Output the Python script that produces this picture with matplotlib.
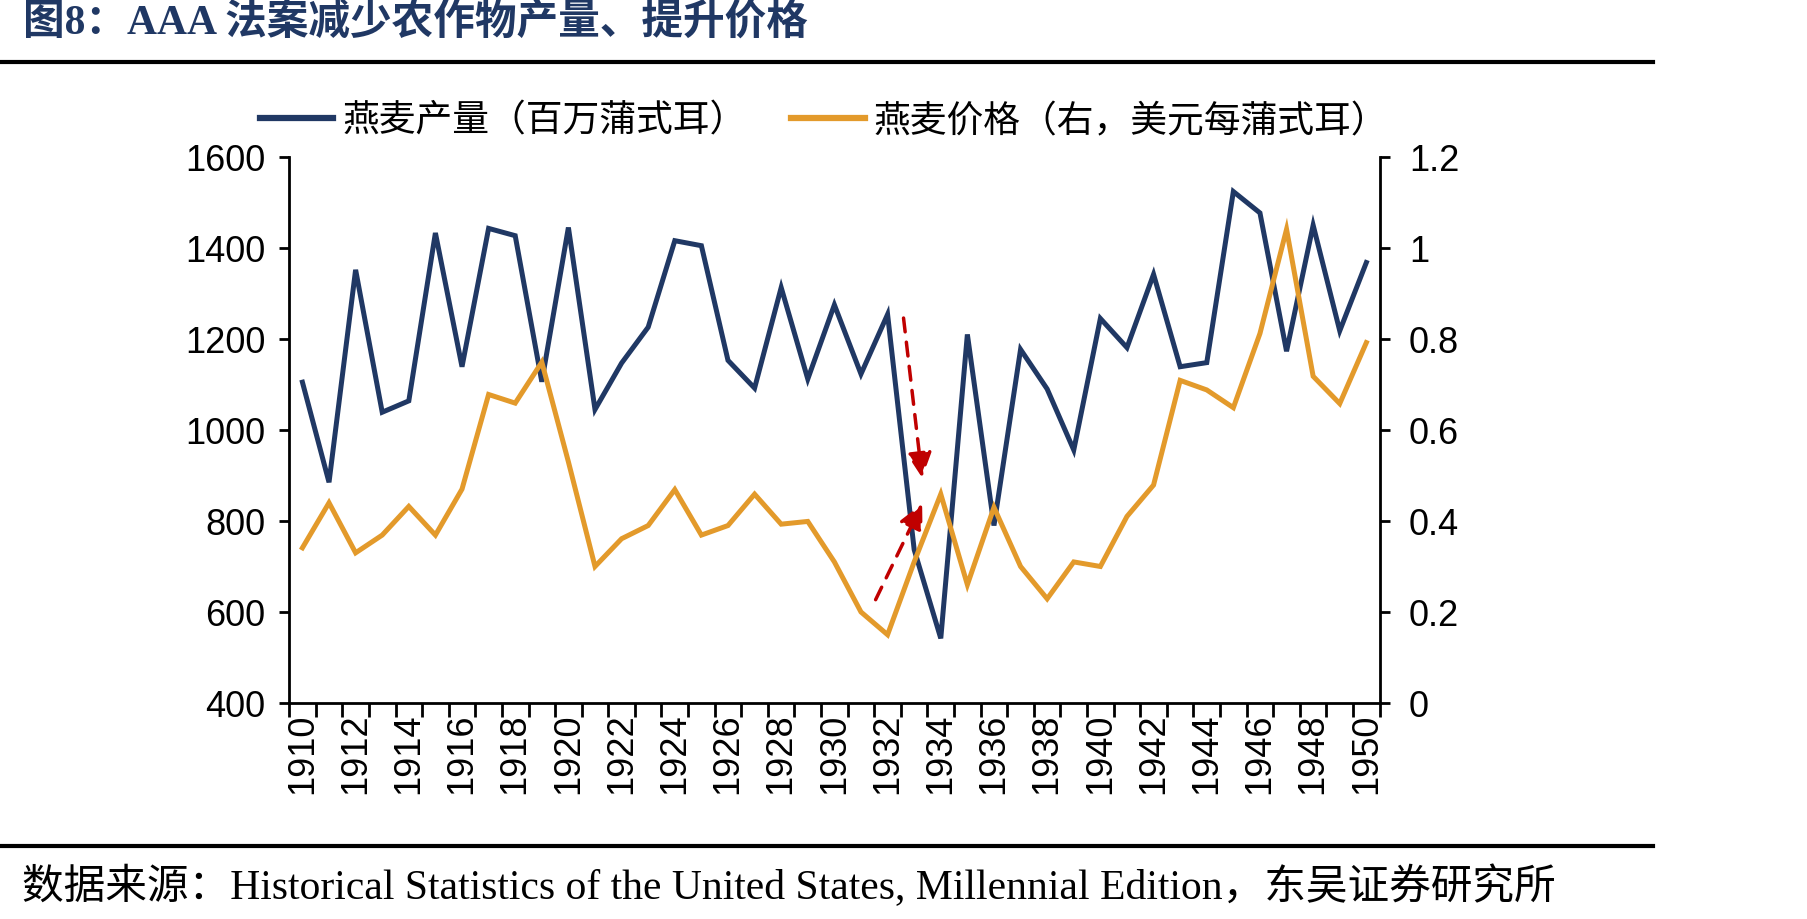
import matplotlib
matplotlib.use("Agg")
import matplotlib.pyplot as plt
from matplotlib.lines import Line2D
import numpy as np

years = list(range(1910, 1951))
oats_output = [1105, 885, 1352, 1039, 1064, 1433, 1139, 1443, 1427, 1106,
               1445, 1045, 1147, 1226, 1416, 1405, 1153, 1092, 1313, 1112,
               1275, 1123, 1254, 737, 542, 1210, 790, 1177, 1090, 956,
               1245, 1181, 1342, 1139, 1148, 1524, 1477, 1173, 1450, 1218, 1368]
oats_price = [0.341, 0.440, 0.330, 0.369, 0.432, 0.369, 0.470, 0.678, 0.659, 0.749,
              0.53, 0.300, 0.361, 0.390, 0.469, 0.369, 0.390, 0.459, 0.393, 0.399,
              0.310, 0.200, 0.150, 0.31, 0.459, 0.260, 0.430, 0.300, 0.229, 0.310,
              0.300, 0.410, 0.479, 0.709, 0.688, 0.649, 0.812, 1.041, 0.718, 0.658, 0.792]
year_labels = [str(y) for y in years[::2]]
left_ticks = [400, 600, 800, 1000, 1200, 1400, 1600]
right_ticks = [0, 0.2, 0.4, 0.6, 0.8, 1.0, 1.2]

title = "图8：AAA 法案减少农作物产量、提升价格"
label_output = "燕麦产量（百万蒲式耳）"
label_price = "燕麦价格（右，美元每蒲式耳）"
source = "数据来源：Historical Statistics of the United States, Millennial Edition，东吴证券研究所"

navy = "#203864"
orange = "#E39A2B"
red = "#C00000"
cjk = ["Noto Sans CJK SC", "DejaVu Sans"]
serif = ["Liberation Serif", "Noto Sans CJK SC"]

fig = plt.figure(figsize=(18.07, 9.2), dpi=100)
ax = fig.add_axes([0.16, 0.2348, 0.6035, 0.5935])
ax2 = ax.twinx()

ax.plot(years, oats_output, color=navy, lw=3.6, solid_joinstyle="miter")
ax2.plot(years, oats_price, color=orange, lw=3.6, solid_joinstyle="miter")

ax.set_xlim(1909.5, 1950.5)
ax.set_ylim(400, 1600)
ax2.set_ylim(0, 1.2)

ax.set_xticks(years[::2])
ax.set_xticklabels(year_labels, rotation=90, fontsize=26, family="Liberation Sans")
ax.set_xticks(np.arange(1909.5, 1951, 1), minor=True)
ax.tick_params(axis="x", which="major", length=0, pad=7)
ax.tick_params(axis="x", which="minor", length=10, width=2, direction="out")

ax.set_yticks(left_ticks)
ax.set_yticklabels([str(v) for v in left_ticks], fontsize=26, family="Liberation Sans")
ax.tick_params(axis="y", length=7, width=2, pad=10)
ax2.set_yticks(right_ticks)
ax2.set_yticklabels(["0" if v == 0 else ("1" if v == 1 else f"{v:.1f}") for v in right_ticks],
                    fontsize=26, family="Liberation Sans")
ax2.tick_params(axis="y", length=7, width=2, pad=14)

for a in (ax, ax2):
    a.spines["top"].set_visible(False)
    for s in ("left", "right", "bottom"):
        a.spines[s].set_linewidth(2)
        a.spines[s].set_color("black")
ax.spines["right"].set_visible(False)
ax2.spines["left"].set_visible(False)
ax2.spines["bottom"].set_visible(False)

# red dashed arrows
ax.annotate("", xy=(1933.3, 895), xytext=(1932.6, 1246),
            arrowprops=dict(arrowstyle="-|>", color=red, lw=2.5, ls=(0, (4, 3)),
                            mutation_scale=38, shrinkA=0, shrinkB=0))
ax.annotate("", xy=(1933.3, 838), xytext=(1931.55, 627),
            arrowprops=dict(arrowstyle="-|>", color=red, lw=2.5, ls=(0, (4, 3)),
                            mutation_scale=38, shrinkA=0, shrinkB=0))

handles = [Line2D([], [], color=navy, lw=4.5), Line2D([], [], color=orange, lw=4.5)]
fig.legend(handles, [label_output, label_price], loc="center", bbox_to_anchor=(0.456, 0.868),
           ncol=2, frameon=False, prop={"family": cjk, "size": 26.5},
           handlelength=2.0, handletextpad=0.25, columnspacing=1.2)

fig.text(0.013, 0.976, title, fontsize=30, fontweight="bold", color=navy,
         family=serif, va="center", ha="left")
fig.add_artist(Line2D([0, 0.915], [0.9315, 0.9315], color="black", lw=3))
fig.add_artist(Line2D([0, 0.915], [0.0793, 0.0793], color="black", lw=3))
fig.text(0.012, 0.036, source, fontsize=30, family=serif, va="center", ha="left")

fig.savefig("out.png", dpi=100)
